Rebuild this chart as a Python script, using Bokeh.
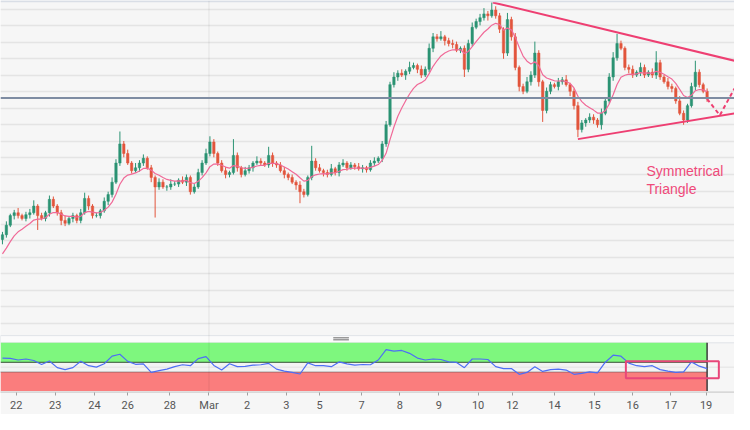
import numpy as np
from bokeh.plotting import figure
from bokeh.models import Range1d, FixedTicker, Span, ColumnDataSource, Grid
from bokeh.core.properties import value
from bokeh.embed import file_html
from bokeh.resources import INLINE

# ---------------- data ----------------
first_open = 160
close = [165, 175, 185, 188, 185, 182, 186, 188, 195, 185,
         182, 188, 202, 195, 188, 180, 177, 182, 185, 180,
         188, 203, 195, 185, 185, 190, 200, 207, 220, 240,
         260, 250, 240, 232, 235, 240, 245, 235, 225, 215,
         220, 215, 215, 218, 218, 222, 220, 225, 210, 215,
         230, 240, 250, 262, 250, 240, 232, 228, 230, 248,
         235, 228, 232, 235, 240, 242, 240, 238, 248, 240,
         238, 232, 228, 225, 220, 217, 210, 207, 225, 242,
         235, 232, 230, 228, 234, 230, 238, 240, 235, 238,
         236, 234, 235, 233, 240, 242, 245, 260, 280, 322,
         330, 334, 332, 336, 340, 342, 338, 332, 338, 360,
         372, 370, 372, 368, 365, 364, 358, 360, 338, 365,
         382, 388, 392, 396, 394, 400, 394, 380, 355, 390,
         372, 340, 320, 315, 325, 332, 355, 325, 295, 315,
         322, 320, 325, 327, 322, 315, 300, 275, 282, 285,
         288, 285, 280, 292, 305, 330, 350, 365, 360, 340,
         338, 332, 335, 340, 332, 335, 332, 345, 330, 325,
         320, 318, 305, 292, 285, 300, 320, 335, 322, 315,
         307]
up_wick = [3, 4, 2, 3, 5, 2, 3, 4, 6, 2,
           3, 2, 4, 3, 2, 3, 5, 2, 3, 2,
           4, 6, 3, 2, 3, 2, 4, 3, 5, 4,
           13, 3, 4, 2, 5, 3, 4, 2, 3, 2,
           4, 3, 2, 5, 3, 2, 4, 3, 2, 3,
           4, 3, 5, 6, 3, 2, 3, 4, 2, 17,
           3, 2, 4, 3, 2, 5, 3, 2, 9, 3,
           2, 3, 4, 2, 3, 2, 4, 3, 2, 16,
           3, 4, 2, 3, 5, 2, 3, 4, 2, 3,
           2, 4, 3, 2, 3, 4, 2, 3, 4, 3,
           5, 3, 4, 2, 6, 3, 2, 4, 3, 5,
           4, 3, 6, 2, 3, 4, 3, 2, 3, 4,
           5, 3, 4, 6, 3, 8, 4, 3, 2, 7,
           3, 4, 2, 3, 5, 4, 12, 3, 2, 4,
           3, 2, 4, 3, 5, 2, 3, 4, 3, 2,
           4, 3, 2, 5, 3, 4, 6, 10, 3, 2,
           3, 4, 2, 5, 3, 2, 4, 12, 3, 2,
           4, 3, 2, 5, 3, 2, 4, 12, 3, 2,
           3]
dn_wick = [5, 3, 2, 4, 3, 2, 3, 4, 2, 15,
           2, 3, 4, 2, 3, 5, 3, 2, 4, 3,
           3, 2, 4, 3, 2, 3, 2, 4, 3, 2,
           3, 4, 2, 3, 2, 4, 3, 2, 5, 32,
           3, 2, 4, 3, 2, 3, 2, 4, 3, 2,
           2, 3, 2, 3, 4, 3, 2, 4, 3, 2,
           4, 3, 2, 3, 4, 2, 3, 2, 3, 4,
           3, 2, 4, 3, 2, 5, 12, 3, 2, 3,
           3, 2, 4, 3, 2, 3, 4, 2, 3, 2,
           3, 2, 4, 3, 2, 3, 2, 4, 3, 2,
           3, 4, 2, 5, 3, 2, 4, 3, 2, 3,
           4, 3, 2, 5, 3, 4, 2, 3, 8, 3,
           3, 2, 4, 3, 5, 2, 3, 4, 6, 3,
           4, 3, 5, 3, 2, 4, 3, 5, 12, 3,
           3, 2, 4, 3, 2, 5, 4, 8, 3, 4,
           3, 4, 3, 5, 2, 3, 4, 3, 2, 3,
           4, 3, 2, 4, 3, 2, 3, 4, 3, 2,
           3, 4, 3, 2, 5, 3, 2, 4, 3, 2,
           3]
ma_seed = 140          # moving-average value at the first candle
ma_period = 9

# RSI, one reading every second candle
rsi = [68.6, 68, 64.7, 66.7, 63.7, 55.5, 62.7, 49, 45, 49,
       62.2, 53, 50, 56.9, 72.5, 76.5, 61.8, 55.9, 56.9, 39.2,
       43, 46, 51, 55, 53, 67.6, 71.6, 53.5, 44, 56.9,
       51, 51.6, 54, 55, 57.8, 46, 42, 39.2, 36, 58.8,
       53, 53, 51, 60.8, 56.9, 54, 55.5, 55, 64.7, 86,
       82.9, 84.3, 78.4, 68.6, 64.7, 66.7, 65.7, 60.8, 59.8, 49,
       66.7, 66.7, 65.7, 51, 47.1, 47.1, 35.3, 39.2, 51, 41.2,
       45, 46, 44, 35.3, 37.3, 40.2, 38.2, 60.2, 74.5, 72.5,
       58.2, 53, 51, 53, 45, 41.8, 39.2, 40.2, 60.8, 52,
       47.1]
rsi_step = 2
rsi_upper, rsi_lower = 60, 40

tick_pos = [3.5, 13.5, 23.5, 32, 42.75, 52.75, 62.5, 72.5, 81, 91.75,
            101.5, 111.5, 121.5, 130.25, 141, 151.25, 161, 170.75, 179.75]
tick_labels = ["22", "23", "24", "26", "28", "Mar", "2", "3", "5", "7",
               "8", "9", "10", "12", "14", "15", "16", "17", "19"]
month_start = 52.75

key_level = 308
tri_upper_x, tri_upper_y = [125.25, 187], [408, 347]
tri_lower_x, tri_lower_y = [147, 187], [265, 292]
proj_x, proj_y = [180, 183.25, 187], [307, 290, 318]
label_x, label_y, label_text = 164.5, 240, "Symmetrical\nTriangle"
rsi_box = dict(left=159.25, right=183, bottom=27.5, top=62)

# ---------------- derived ----------------
n = len(close)
idx = np.arange(n)
opens = [first_open] + close[:-1]
highs = [max(o, c) + u for o, c, u in zip(opens, close, up_wick)]
lows = [min(o, c) - d for o, c, d in zip(opens, close, dn_wick)]
UP, DN = "#2b9373", "#e2553c"
colors = [UP if c >= o else DN for o, c in zip(opens, close)]
src = ColumnDataSource(dict(x=idx, o=opens, c=close, h=highs, l=lows, col=colors))

alpha = 2.0 / (ma_period + 1)
ma = []
m = ma_seed
for c in close:
    m = m + alpha * (c - m)
    ma.append(m)

last = n - 1
X0, X1 = -0.5, 187

# ---------------- figure ----------------
BG = "#f6f6f6"
p = figure(width=734, height=414, x_range=Range1d(X0, X1), y_range=Range1d(0, 410),
           output_backend="svg", toolbar_location=None, y_axis_location=None,
           background_fill_color=BG, border_fill_color=BG, outline_line_color=None,
           min_border=0)
p.extra_y_ranges = {"rsi": Range1d(-1.96, 801.96)}

p.xgrid.visible = False
p.ygrid.visible = False
grid_levels = [400.7 - 17.27 * k for k in range(20)]
g = Grid(dimension=1, ticker=FixedTicker(ticks=grid_levels),
         grid_line_color="#e4e4e4", grid_line_width=1.5)
p.add_layout(g, "center")

# x axis
ax = p.xaxis[0]
ax.ticker = FixedTicker(ticks=tick_pos)
ax.major_label_overrides = {t: l for t, l in zip(tick_pos, tick_labels)}
ax.minor_tick_line_color = None
ax.major_tick_in = 0
ax.major_tick_out = 3
ax.major_tick_line_color = "#a0a0a0"
ax.axis_line_color = "#d8d8d8"
ax.major_label_standoff = 3
ax.major_label_text_font = "Roboto"
ax.major_label_text_font_size = "11px"
ax.major_label_text_color = "#555555"

# top border and month separator
p.add_layout(Span(location=409.3, dimension="width", line_color="#d9dee6", line_width=2))
p.add_layout(Span(location=month_start, dimension="height", line_color="#000000",
                  line_alpha=0.05, line_width=1.5))

# key horizontal level
p.add_layout(Span(location=key_level, dimension="width", line_color="#7e8ca2", line_width=2))

# candles
p.segment(x0="x", y0="h", x1="x", y1="l", color="col", line_width=1, source=src)
p.vbar(x="x", width=0.62, top="o", bottom="c", fill_color="col", line_color="col",
       line_width=0.5, source=src)

# moving average
p.line(idx, ma, line_color="#f06a98", line_width=1.2)

# triangle
TRI = "#ee3f72"
p.line(tri_upper_x, tri_upper_y, line_color=TRI, line_width=2)
p.line(tri_lower_x, tri_lower_y, line_color=TRI, line_width=2)
p.line(proj_x, proj_y, line_color=TRI, line_width=2, line_dash="4 3")
p.text(x=[label_x], y=[label_y], text=[label_text], text_font=value("Liberation Sans"),
       text_font_size="14px", text_color="#ef4a7a", text_baseline="top",
       text_align="left", text_line_height=1.15)

# ---------------- RSI panel ----------------
# separator strip
p.quad(left=X0, right=X1, bottom=52, top=59.5, fill_color="#fbfbfb",
       line_color="#e0e3e8", line_width=1)
hx = 86.5
p.segment(x0=[hx - 2, hx - 2], x1=[hx + 2, hx + 2], y0=[55.3, 57.3], y1=[55.3, 57.3],
          line_color="#9a9a9a", line_width=1.5)

R = "rsi"
p.quad(left=X0, right=last, bottom=rsi_upper, top=100, fill_color="#7ef77e",
       line_color=None, y_range_name=R)
p.quad(left=X0, right=last, bottom=rsi_lower, top=rsi_upper, fill_color="#f3f3f3",
       line_color=None, y_range_name=R)
p.quad(left=X0, right=last, bottom=0, top=rsi_lower, fill_color="#fa7d7d",
       line_color=None, y_range_name=R)
p.segment(x0=[X0], x1=[X1], y0=[50], y1=[50], line_color="#e2e2e2", line_width=1,
          y_range_name=R)
p.segment(x0=[X0], x1=[last], y0=[rsi_upper], y1=[rsi_upper], line_color="#2f4f2f",
          line_width=1, y_range_name=R)
p.segment(x0=[X0], x1=[last], y0=[rsi_lower], y1=[rsi_lower], line_color="#4a4a4a",
          line_width=1, line_dash="1 1", y_range_name=R)
p.segment(x0=[last], x1=[last], y0=[0], y1=[100], line_color="#3c3c3c",
          line_width=1.5, y_range_name=R)
p.segment(x0=[X0], x1=[X1], y0=[0], y1=[0], line_color="#e0e0e0", line_width=1,
          y_range_name=R)

rsi_x = list(range(0, n, rsi_step))
p.line(rsi_x, rsi, line_color="#4d6ef5", line_width=1.2, y_range_name=R)

p.quad(left=rsi_box["left"], right=rsi_box["right"], bottom=rsi_box["bottom"],
       top=rsi_box["top"], fill_color=None, line_color="#e8467a", line_width=2,
       y_range_name=R)

open("out.html", "w").write(file_html(p, INLINE))
